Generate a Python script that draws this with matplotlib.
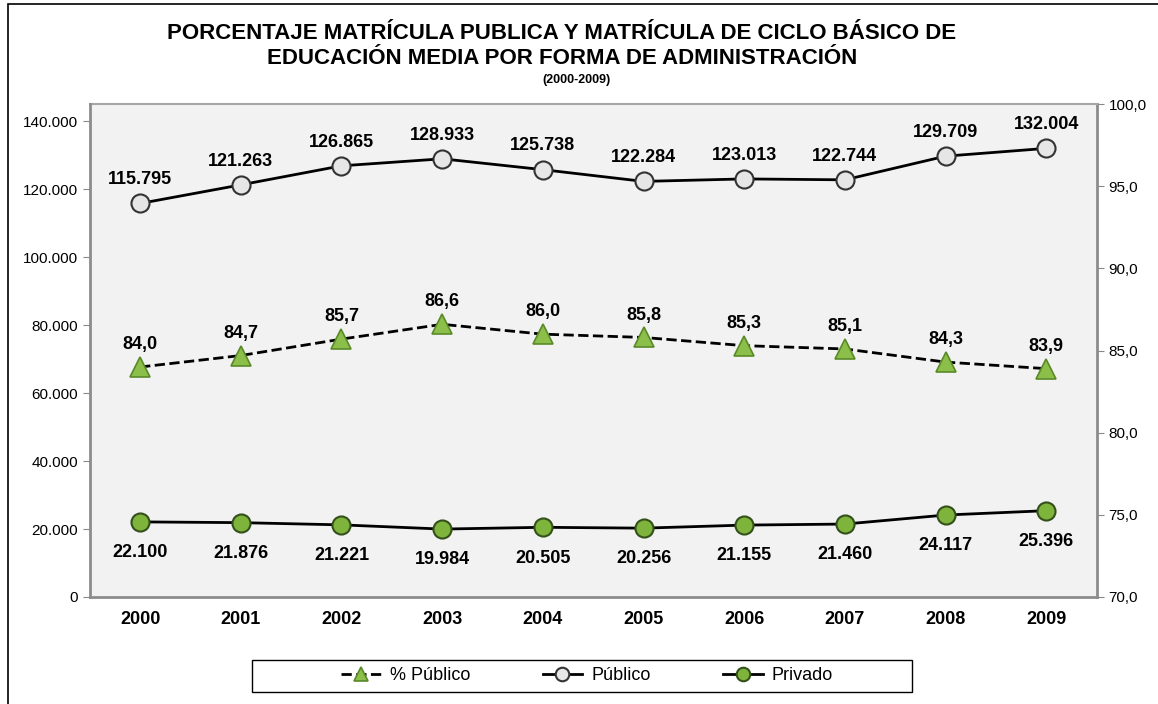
import matplotlib
matplotlib.use("Agg")
import matplotlib.pyplot as plt
from matplotlib.patches import Rectangle
from matplotlib.ticker import FuncFormatter

# ===============================
# datos
# ===============================
anios = ["2000", "2001", "2002", "2003", "2004", "2005", "2006", "2007", "2008", "2009"]
publico = [115795, 121263, 126865, 128933, 125738, 122284, 123013, 122744, 129709, 132004]
privado = [22100, 21876, 21221, 19984, 20505, 20256, 21155, 21460, 24117, 25396]
pct_publico = [84.0, 84.7, 85.7, 86.6, 86.0, 85.8, 85.3, 85.1, 84.3, 83.9]

plt.rcParams["font.family"] = ["Liberation Sans", "DejaVu Sans"]


def miles(v, pos=None):
    return f"{int(round(v)):,}".replace(",", ".")


def decimal(v, pos=None):
    return f"{v:.1f}".replace(".", ",")


fig = plt.figure(figsize=(11.58, 7.04), dpi=100)
# borde del gráfico (cortado a la derecha y abajo)
fig.patches.append(Rectangle((0.0069, -0.01), 1.05, 1.0043, transform=fig.transFigure,
                             fill=False, edgecolor="black", linewidth=1.2))

ax = fig.add_axes([0.0775, 0.152, 0.8695, 0.700])
ax2 = ax.twinx()
ax.set_zorder(ax2.get_zorder() + 1)
ax.patch.set_visible(False)
ax2.patch.set_visible(True)
ax2.patch.set_facecolor("#f2f2f2")

x = list(range(len(anios)))

# % Público (eje derecho)
l_pct, = ax2.plot(x, pct_publico, color="black", linestyle="--", linewidth=2,
                  marker="^", markersize=14, markerfacecolor="#8cbf4a",
                  markeredgecolor="#5a8a28", markeredgewidth=1.2, label="% Público")
for xi, v in zip(x, pct_publico):
    ax2.annotate(decimal(v), (xi, v), xytext=(0, 10), textcoords="offset points",
                 ha="center", va="bottom", fontsize=13, fontweight="bold")

# Público / Privado (eje izquierdo)
l_pub, = ax.plot(x, publico, color="black", linewidth=2, marker="o", markersize=13,
                 markerfacecolor="#e6e6e6", markeredgecolor="#333333",
                 markeredgewidth=1.5, label="Público")
l_priv, = ax.plot(x, privado, color="black", linewidth=2, marker="o", markersize=13,
                  markerfacecolor="#7fb43c", markeredgecolor="#33501a",
                  markeredgewidth=1.5, label="Privado")
for xi, v in zip(x, publico):
    ax.annotate(miles(v), (xi, v), xytext=(0, 11), textcoords="offset points",
                ha="center", va="bottom", fontsize=13, fontweight="bold")
for xi, v in zip(x, privado):
    ax.annotate(miles(v), (xi, v), xytext=(0, -16), textcoords="offset points",
                ha="center", va="top", fontsize=13, fontweight="bold")

ax.set_xlim(-0.5, len(anios) - 0.5)
ax.set_ylim(0, 145000)
ax.set_yticks(range(0, 140001, 20000))
ax.yaxis.set_major_formatter(FuncFormatter(miles))
ax2.set_ylim(70, 100)
ax2.set_yticks(range(70, 101, 5))
ax2.yaxis.set_major_formatter(FuncFormatter(decimal))

ax.set_xticks(x)
ax.set_xticklabels(anios, fontsize=13, fontweight="bold")
ax.tick_params(axis="x", length=0, pad=10)
ax.tick_params(axis="y", labelsize=11, length=5, color="#888888", direction="out")
ax2.tick_params(axis="y", labelsize=11, length=5, color="#888888", direction="out")

for a in (ax, ax2):
    for s in a.spines.values():
        s.set_visible(False)
for a, side in ((ax, "left"), (ax, "bottom"), (ax2, "right"), (ax2, "top")):
    a.spines[side].set_visible(True)
    a.spines[side].set_color("#8c8c8c")
    a.spines[side].set_linewidth(2)
ax2.spines["top"].set_color("#a6a6a6")
ax2.spines["top"].set_linewidth(1.5)

# títulos
fig.text(0.485, 0.952, "PORCENTAJE MATRÍCULA PUBLICA Y MATRÍCULA DE CICLO BÁSICO DE",
         ha="center", va="center", fontsize=16, fontweight="bold")
fig.text(0.485, 0.917, "EDUCACIÓN MEDIA POR FORMA DE ADMINISTRACIÓN",
         ha="center", va="center", fontsize=16, fontweight="bold")
fig.text(0.498, 0.886, "(2000-2009)", ha="center", va="center", fontsize=9,
         fontweight="bold")

# leyenda con caja propia
fig.patches.append(Rectangle((0.2176, 0.017), 0.570, 0.0455, transform=fig.transFigure,
                             facecolor="white", edgecolor="black", linewidth=1.0))
leg = fig.legend(handles=[l_pct, l_pub, l_priv], loc="center", ncol=3,
                 bbox_to_anchor=(0.507, 0.04), bbox_transform=fig.transFigure,
                 frameon=False, fontsize=13, columnspacing=4.0,
                 handlelength=2.2, handletextpad=0.5, borderpad=0.2,
                 markerscale=0.75, borderaxespad=0)

fig.savefig("out.png", dpi=100)
